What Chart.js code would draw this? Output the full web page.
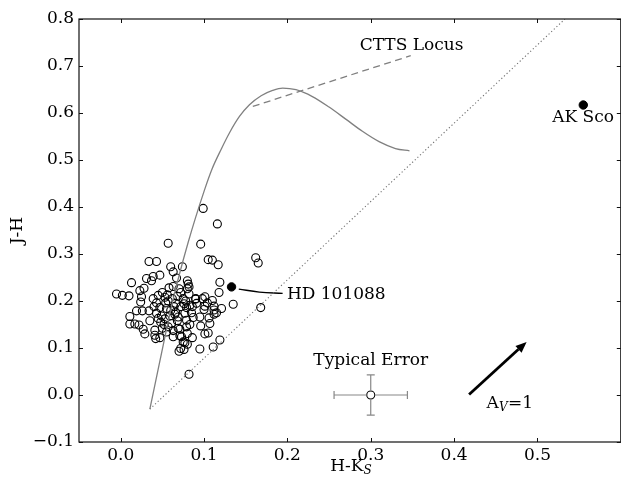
<!DOCTYPE html>
<html>
<head>
<meta charset="utf-8">
<script src="https://cdn.jsdelivr.net/npm/chart.js@4.4.1/dist/chart.umd.min.js"></script>
<style>
html, body { margin: 0; padding: 0; overflow: hidden; background: #fff; }
canvas { display: block; }
</style>
</head>
<body>
<canvas id="cc" width="626" height="482"></canvas>
<script>
// open circles (H-Ks, J-H)
const starHK = [0.099,0.116,0.057,0.096,0.034,0.043,0.105,0.110,0.117,0.162,0.165,
  0.060,0.074,0.063,0.067,0.013,0.031,0.039,0.047,0.037,0.080,0.081,0.119,
  -0.005,0.002,0.010,0.023,0.028,0.025,0.024,0.058,0.063,0.070,0.080,0.082,0.072,
  0.118,0.101,0.135,0.168,0.039,0.043,0.053,0.054,0.057,0.040,0.047,0.055,
  0.076,0.079,0.083,0.090,0.091,0.101,0.110,0.112,0.121,0.019,0.026,0.034,
  0.011,0.011,0.017,0.022,0.027,0.029,0.041,0.041,0.047,0.042,0.035,0.043,0.045,0.049,
  0.053,0.059,0.065,0.069,0.061,0.057,0.055,0.063,0.069,0.063,0.071,0.079,0.080,
  0.071,0.073,0.075,0.077,0.080,0.072,0.070,0.076,0.095,0.095,0.100,0.096,0.101,0.105,0.111,0.119,
  0.112,0.112,0.082,0.077,0.079,0.050,0.052,0.048,0.060,0.064,0.066,0.068,0.085,0.087,0.083,0.086,
  0.090,0.082,0.086,0.045,0.050,0.056,0.062,0.066,0.068,0.072,0.075,0.078,0.106,0.107,0.115,0.104,0.098];
const starJH = [0.397,0.364,0.323,0.321,0.284,0.284,0.288,0.287,0.277,0.292,0.281,
  0.273,0.273,0.262,0.249,0.239,0.248,0.252,0.255,0.243,0.243,0.236,0.240,
  0.215,0.212,0.211,0.222,0.227,0.209,0.198,0.228,0.231,0.226,0.226,0.230,0.218,
  0.218,0.209,0.193,0.186,0.205,0.196,0.208,0.196,0.200,0.188,0.186,0.184,
  0.194,0.186,0.191,0.204,0.195,0.189,0.201,0.189,0.184,0.179,0.179,0.179,
  0.167,0.151,0.151,0.149,0.140,0.130,0.138,0.127,0.122,0.120,0.158,0.174,0.163,0.168,
  0.162,0.168,0.172,0.166,0.152,0.145,0.134,0.137,0.142,0.124,0.126,0.145,0.131,
  0.140,0.124,0.113,0.111,0.108,0.099,0.093,0.097,0.098,0.166,0.182,0.147,0.130,0.132,0.102,0.117,
  0.172,0.181,0.044,0.174,0.159,0.142,0.150,0.155,0.180,0.188,0.176,0.158,0.175,0.165,0.150,0.122,
  0.205,0.215,0.188,0.212,0.218,0.213,0.205,0.195,0.210,0.188,0.205,0.200,0.164,0.152,0.175,0.196,0.205];

const hd101088 = [0.133, 0.230];
const akSco = [0.555, 0.617];

// main sequence / giant track
const trackHK = [0.035,0.047,0.063,0.081,0.1007,0.1095,0.1206,0.1306,0.1425,0.1545,0.1685,
  0.1823,0.1943,0.2103,0.230,0.250,0.270,0.290,0.310,0.3297,0.3465];
const trackJH = [-0.030,0.072,0.204,0.325,0.437,0.4805,0.523,0.558,0.5926,0.6175,0.6367,
  0.648,0.653,0.6495,0.635,0.6126,0.587,0.561,0.539,0.5244,0.5195];

const cttsHK = [0.1585, 0.348];
const cttsJH = [0.614, 0.722];

const reddenHK = [0.035, 0.533];
const reddenJH = [-0.030, 0.800];

const hdLineHK = [0.1417, 0.1664, 0.1943];
const hdLineJH = [0.2254, 0.2190, 0.2162];

const errPoint = [0.3, 0.0];
const errHK = 0.044;
const errJH = 0.043;

const arrowTail = [0.418, 0.001];
const arrowTip = [0.487, 0.113];

const xTickVals = [0.0, 0.1, 0.2, 0.3, 0.4, 0.5];
const yTickVals = [-0.1, 0.0, 0.1, 0.2, 0.3, 0.4, 0.5, 0.6, 0.7, 0.8];

const FONT = '"DejaVu Serif", serif';

function pts(xs, ys) {
  const out = [];
  for (let i = 0; i < xs.length; i++) out.push({x: xs[i], y: ys[i]});
  return out;
}

function fmt(v) {
  const s = Math.abs(v).toFixed(1);
  return v < -1e-9 ? '\u2212' + s : s;
}

const extras = {
  id: 'extras',
  afterDraw(chart) {
    const c = chart.ctx;
    const xs = chart.scales.x, ys = chart.scales.y;
    const a = chart.chartArea;
    const X = v => xs.getPixelForValue(v);
    const Y = v => ys.getPixelForValue(v);
    c.save();

    // error bar
    c.strokeStyle = '#888';
    c.lineWidth = 1.2;
    const ex = X(errPoint[0]), ey = Y(errPoint[1]);
    const x0 = X(errPoint[0] - errHK), x1 = X(errPoint[0] + errHK);
    const y0 = Y(errPoint[1] - errJH), y1 = Y(errPoint[1] + errJH);
    c.beginPath();
    c.moveTo(x0, ey); c.lineTo(ex - 4, ey);
    c.moveTo(ex + 4, ey); c.lineTo(x1, ey);
    c.moveTo(ex, y1); c.lineTo(ex, ey - 4);
    c.moveTo(ex, ey + 4); c.lineTo(ex, y0);
    c.moveTo(x0, ey - 4); c.lineTo(x0, ey + 4);
    c.moveTo(x1, ey - 4); c.lineTo(x1, ey + 4);
    c.moveTo(ex - 4, y0); c.lineTo(ex + 4, y0);
    c.moveTo(ex - 4, y1); c.lineTo(ex + 4, y1);
    c.stroke();

    // reddening arrow
    const tx = X(arrowTail[0]), ty = Y(arrowTail[1]);
    const hx = X(arrowTip[0]), hy = Y(arrowTip[1]);
    const ang = Math.atan2(hy - ty, hx - tx);
    const hl = 11, hw = 4.5;
    const bx = hx - hl * Math.cos(ang), by = hy - hl * Math.sin(ang);
    c.strokeStyle = '#000';
    c.fillStyle = '#000';
    c.lineWidth = 2.8;
    c.beginPath(); c.moveTo(tx, ty); c.lineTo(bx, by); c.stroke();
    c.beginPath();
    c.moveTo(hx, hy);
    c.lineTo(bx + hw * Math.sin(ang), by - hw * Math.cos(ang));
    c.lineTo(bx - hw * Math.sin(ang), by + hw * Math.cos(ang));
    c.closePath(); c.fill();

    // frame + inward ticks
    c.strokeStyle = '#111';
    c.lineWidth = 1.2;
    c.strokeRect(a.left, a.top, a.right - a.left, a.bottom - a.top);
    c.lineWidth = 1;
    c.beginPath();
    xTickVals.forEach(v => {
      const p = Math.round(X(v)) + 0.5;
      c.moveTo(p, a.bottom); c.lineTo(p, a.bottom - 4);
      c.moveTo(p, a.top); c.lineTo(p, a.top + 4);
    });
    yTickVals.forEach(v => {
      const p = Math.round(Y(v)) + 0.5;
      c.moveTo(a.left, p); c.lineTo(a.left + 4, p);
      c.moveTo(a.right, p); c.lineTo(a.right - 4, p);
    });
    c.stroke();

    // annotations
    c.fillStyle = '#000';
    c.font = '17px ' + FONT;
    c.textBaseline = 'middle';
    c.textAlign = 'center';
    c.fillText('CTTS Locus', X(0.349), Y(0.743));
    c.fillText('AK Sco', X(0.5547), Y(0.591));
    c.fillText('Typical Error', X(0.3), Y(0.0742));
    c.textAlign = 'left';
    c.fillText('HD 101088', X(0.1994), Y(0.2128));

    // A_V=1
    let px = X(0.439), py = Y(-0.018);
    c.fillText('A', px, py);
    px += c.measureText('A').width;
    c.font = 'italic 12px ' + FONT;
    c.fillText('V', px, py + 4);
    px += c.measureText('V').width + 0.5;
    c.font = '17px ' + FONT;
    c.fillText('=1', px, py);

    // axis titles
    c.font = '17px ' + FONT;
    const w1 = c.measureText('H-K').width;
    c.font = 'italic 12px ' + FONT;
    const w2 = c.measureText('S').width;
    const sx = 351 - (w1 + w2) / 2;
    c.font = '17px ' + FONT;
    c.fillText('H-K', sx, 467);
    c.font = 'italic 12px ' + FONT;
    c.fillText('S', sx + w1, 471);

    c.font = '17px ' + FONT;
    c.textAlign = 'center';
    c.translate(18, (a.top + a.bottom) / 2);
    c.rotate(-Math.PI / 2);
    c.fillText('J-H', 0, 0);
    c.restore();
  }
};

new Chart(document.getElementById('cc'), {
  type: 'scatter',
  data: {
    datasets: [
      { data: pts(trackHK, trackJH), showLine: true, borderColor: '#808080', borderWidth: 1.3,
        pointRadius: 0, cubicInterpolationMode: 'monotone', fill: false },
      { data: pts(cttsHK, cttsJH), showLine: true, borderColor: '#808080', borderWidth: 1.3,
        borderDash: [7, 4.5], pointRadius: 0 },
      { data: pts(reddenHK, reddenJH), showLine: true, borderColor: '#707070', borderWidth: 1.1,
        borderDash: [1.2, 2.4], pointRadius: 0 },
      { data: pts(hdLineHK, hdLineJH), showLine: true, borderColor: '#000', borderWidth: 1.3,
        tension: 0.4, pointRadius: 0 },
      { data: pts(starHK, starJH), pointRadius: 4, pointBorderWidth: 1.1,
        pointBorderColor: '#000', pointBackgroundColor: 'rgba(0,0,0,0)' },
      { data: [{x: errPoint[0], y: errPoint[1]}], pointRadius: 4, pointBorderWidth: 1.1,
        pointBorderColor: '#000', pointBackgroundColor: 'rgba(0,0,0,0)' },
      { data: [{x: hd101088[0], y: hd101088[1]}, {x: akSco[0], y: akSco[1]}], pointRadius: 4.2,
        pointBorderColor: '#000', pointBackgroundColor: '#000' }
    ]
  },
  options: {
    responsive: false,
    animation: false,
    layout: { padding: { top: 19, right: 3, left: 0, bottom: 0 } },
    plugins: { legend: { display: false }, tooltip: { enabled: false } },
    scales: {
      x: {
        type: 'linear', min: -0.05, max: 0.6,
        grid: { display: false, drawTicks: false },
        border: { display: false },
        afterBuildTicks: s => { s.ticks = xTickVals.map(v => ({value: v})); },
        afterFit: s => { s.height = 40; },
        ticks: { color: '#000', font: { family: FONT, size: 17 }, padding: 3,
          maxRotation: 0, autoSkip: false, callback: v => fmt(v) }
      },
      y: {
        type: 'linear', min: -0.1, max: 0.8,
        grid: { display: false, drawTicks: false },
        border: { display: false },
        afterBuildTicks: s => { s.ticks = yTickVals.map(v => ({value: v})); },
        afterFit: s => { s.width = 79; },
        ticks: { color: '#000', font: { family: FONT, size: 17 }, padding: 5,
          autoSkip: false, callback: v => fmt(v) }
      }
    }
  },
  plugins: [extras]
});
</script>
</body>
</html>
